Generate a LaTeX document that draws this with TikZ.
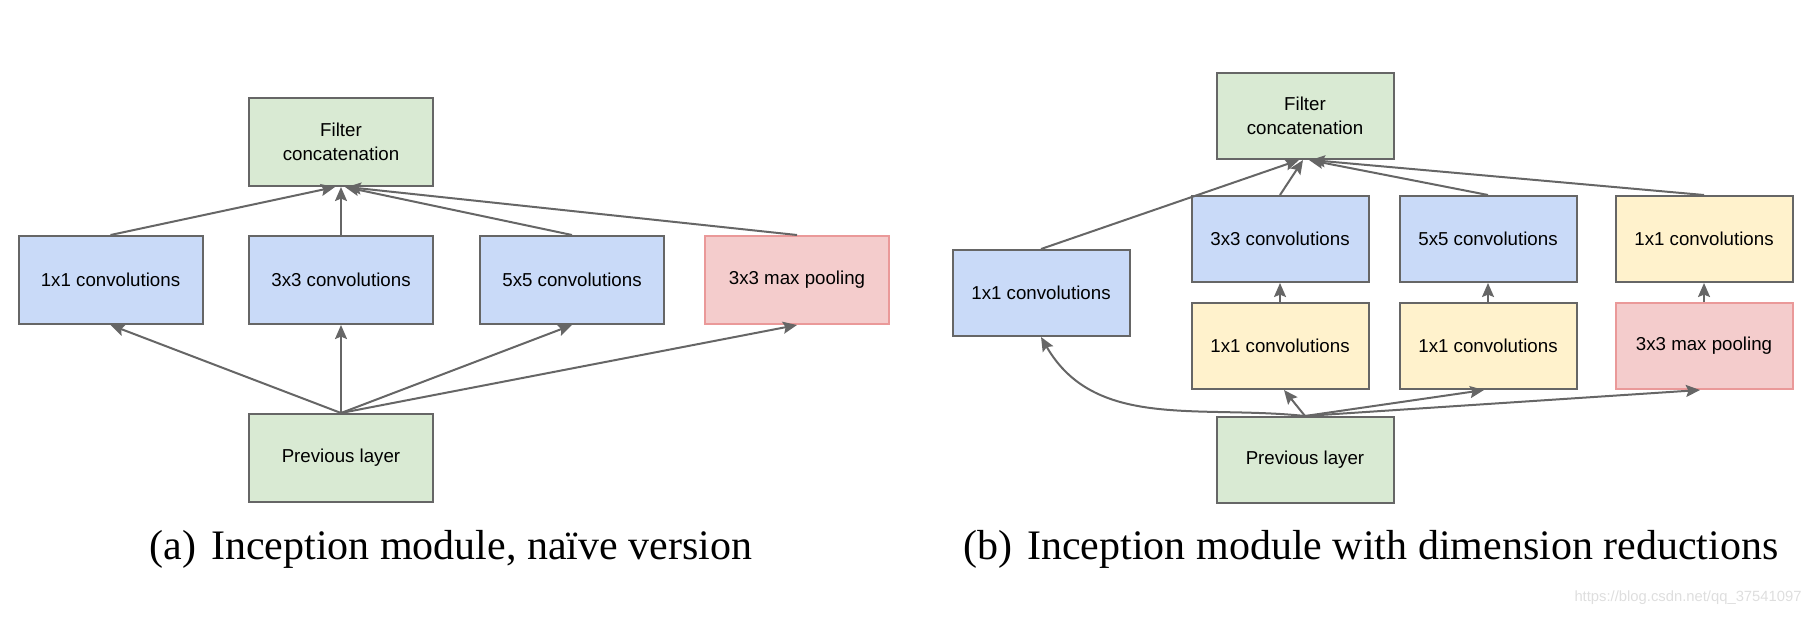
\documentclass[tikz,border=0pt]{standalone}
\usepackage{fontspec}
\setmainfont{Liberation Serif}
\newfontfamily\boxfont{Liberation Sans}
\usetikzlibrary{arrows.meta}
\definecolor{bordergray}{HTML}{666666}
\definecolor{fgreen}{HTML}{D9EAD3}
\definecolor{fblue}{HTML}{C9DAF8}
\definecolor{fyellow}{HTML}{FFF2CC}
\definecolor{fred}{HTML}{F4CCCC}
\definecolor{bred}{HTML}{EA9999}
\tikzset{
  blk/.style={draw=bordergray, line width=1pt, align=center, inner sep=0pt,
    font=\boxfont\fontsize{9.35pt}{12pt}\selectfont},
  blka/.style={blk, minimum width=92pt, minimum height=44pt},
  blkb/.style={blk, minimum width=88.5pt, minimum height=43pt},
  gbox/.style={fill=fgreen},
  bbox/.style={fill=fblue},
  ybox/.style={fill=fyellow},
  rbox/.style={fill=fred, draw=bred},
  arr/.style={draw=bordergray, line width=1pt, -{Stealth[length=7pt,width=6pt,inset=1.2pt]}},
  captxt/.style={font=\fontsize{21pt}{25pt}\selectfont, inner sep=0pt},
}
\begin{document}
\begin{tikzpicture}[x=0.5pt,y=-0.5pt]
\useasboundingbox (0,0) rectangle (1814,617);
% (a)
\node[blka,gbox] (fa) at (341,142) {Filter\\concatenation};
\node[blka,bbox] (a1) at (110.5,280) {1x1 convolutions};
\node[blka,bbox] (a3) at (341,280) {3x3 convolutions};
\node[blka,bbox] (a5) at (572,280) {5x5 convolutions};
\node[blka,rbox] (ap) at (797,280) {3x3 max pooling};
\node[blka,gbox] (pa) at (341,458) {Previous layer};
\draw[arr] (a1.north) -- ([xshift=-3pt]fa.south);
\draw[arr] (a3.north) -- (fa.south);
\draw[arr] (a5.north) -- ([xshift=2pt]fa.south);
\draw[arr] (ap.north) -- ([xshift=3pt]fa.south);
\draw[arr] (pa.north) -- (a1.south);
\draw[arr] (pa.north) -- (a3.south);
\draw[arr] (pa.north) -- (a5.south);
\draw[arr] (pa.north) -- (ap.south);
\node[captxt] (capa) at (451,549) {(a)\hspace{0.35em}Inception module, na\"ive version};
% (b)
\node[blkb,gbox] (fb) at (1305,116) {Filter\\concatenation};
\node[blkb,bbox] (b1) at (1041,293) {1x1 convolutions};
\node[blkb,bbox] (b3) at (1280,239) {3x3 convolutions};
\node[blkb,bbox] (b5) at (1488,239) {5x5 convolutions};
\node[blkb,ybox] (bp1) at (1704,239) {1x1 convolutions};
\node[blkb,ybox] (br3) at (1280,346) {1x1 convolutions};
\node[blkb,ybox] (br5) at (1488,346) {1x1 convolutions};
\node[blkb,rbox] (bp) at (1704,346) {3x3 max pooling};
\node[blkb,gbox] (pb) at (1305,460) {Previous layer};
\draw[arr] (b1.north) -- ([xshift=-3pt]fb.south);
\draw[arr] (b3.north) -- ([xshift=-1pt]fb.south);
\draw[arr] (b5.north) -- ([xshift=2pt]fb.south);
\draw[arr] (bp1.north) -- ([xshift=3pt]fb.south);
\draw[arr] (br3.north) -- (b3.south);
\draw[arr] (br5.north) -- (b5.south);
\draw[arr] (bp.north) -- (bp1.south);
\draw[arr] (pb.north) to[out=174,in=-60] (b1.south);
\draw[arr] (pb.north) -- ([xshift=2pt]br3.south);
\draw[arr] (pb.north) -- ([xshift=-2pt]br5.south);
\draw[arr] (pb.north) -- ([xshift=-2pt]bp.south);
\node[captxt] (capb) at (1371,549) {(b)\hspace{0.35em}Inception module with dimension reductions};
\node[font=\boxfont\fontsize{7.4pt}{9pt}\selectfont, text=black!13, anchor=east, inner sep=0pt] (wm) at (1802,598) {https://blog.csdn.net/qq\_37541097};
\end{tikzpicture}
\end{document}
